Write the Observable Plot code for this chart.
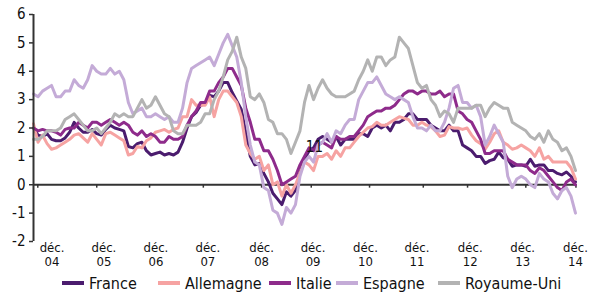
<!DOCTYPE html>
<html><head><meta charset="utf-8">
<script src="https://cdn.jsdelivr.net/npm/d3@7"></script>
<script src="https://cdn.jsdelivr.net/npm/@observablehq/plot@0.6"></script>
<style>
body{margin:0;background:#fff;}
#chart{position:relative;width:592px;height:295px;font-family:'Liberation Sans Narrow','DejaVu Sans Condensed','Arial Narrow',sans-serif;}
#legend{position:absolute;left:0;top:273px;width:592px;height:20px;}
.item{position:absolute;top:0;display:flex;align-items:center;font-size:16px;color:#111;height:20px;white-space:nowrap;}
.sw{width:22px;height:4px;margin-right:5px;}
</style></head><body><div id="chart"><div id="legend"></div></div>
<script>
// Monthly values, Dec 2004 (index 0) -> Dec 2014 (index 120), % y/y
const france = [2.0,
 1.75,1.7,1.8,1.6,1.55,1.55,1.65,1.85,2.2,2.0,1.85,1.85,
 1.95,1.8,1.75,1.95,2.1,2.0,1.95,1.9,1.35,1.3,1.45,1.5,
 1.2,1.05,1.1,1.15,1.05,1.1,1.05,1.15,1.5,2.0,2.4,2.55,
 2.8,2.85,3.15,3.1,3.3,3.6,3.6,3.25,2.95,2.65,1.85,1.0,
 0.7,0.75,0.4,0.1,-0.3,-0.5,-0.7,-0.25,-0.4,-0.2,0.4,0.9,
 1.2,1.3,1.6,1.7,1.6,1.5,1.7,1.4,1.6,1.6,1.6,1.8,
 1.8,1.7,2.0,2.1,2.0,2.1,1.9,2.2,2.2,2.3,2.5,2.5,
 2.3,2.3,2.3,2.1,2.0,1.9,1.9,2.1,1.9,1.9,1.4,1.3,
 1.2,1.0,1.0,0.75,0.85,0.9,1.15,0.95,0.9,0.65,0.7,0.7,
 0.65,0.9,0.65,0.7,0.7,0.5,0.5,0.4,0.35,0.45,0.3,0.1];
const allemagne = [2.15,
 1.5,1.75,1.45,1.25,1.3,1.4,1.5,1.6,1.75,1.8,1.65,1.5,
 1.8,1.6,1.4,1.8,1.85,1.75,1.65,1.55,1.05,1.1,1.35,1.3,
 1.55,1.65,1.85,1.9,1.95,1.85,1.95,2.0,2.4,2.4,3.0,2.8,
 2.8,2.8,3.1,2.4,3.0,3.3,3.3,3.1,2.9,2.4,1.4,1.1,
 0.9,1.0,0.5,0.7,0.0,0.1,-0.4,0.0,-0.3,0.0,0.4,0.8,
 0.7,0.5,1.0,1.0,1.1,0.9,1.2,1.0,1.3,1.3,1.5,1.7,
 1.85,2.0,2.05,2.2,2.1,2.1,2.2,2.3,2.4,2.35,2.3,2.1,
 2.1,2.2,2.1,2.05,1.9,1.7,1.75,2.05,2.0,2.0,1.95,2.0,
 1.75,1.55,1.45,1.25,1.5,1.8,1.9,1.5,1.4,1.25,1.3,1.4,
 1.3,1.2,1.0,1.3,0.9,1.0,0.8,0.8,0.8,0.8,0.6,0.2];
const italie = [2.0,
 1.9,1.95,1.9,1.9,1.85,1.75,1.95,2.0,2.0,2.2,2.1,2.0,
 2.2,2.2,2.1,2.2,2.3,2.2,2.1,2.2,2.1,1.85,1.75,1.9,
 1.7,1.8,1.7,1.5,1.5,1.7,1.6,1.6,1.7,2.1,2.4,2.6,
 2.9,2.9,3.3,3.3,3.6,3.8,4.1,4.1,3.8,3.5,2.7,2.2,
 1.6,1.6,1.2,1.2,0.9,0.5,0.0,0.1,0.2,0.3,0.7,1.0,
 1.3,1.2,1.4,1.5,1.4,1.3,1.7,1.6,1.6,1.7,1.7,1.9,
 2.1,2.4,2.5,2.6,2.6,2.7,2.7,2.8,3.0,3.2,3.3,3.3,
 3.2,3.3,3.3,3.2,3.2,3.3,3.1,3.2,3.2,2.6,2.5,2.3,
 2.2,1.9,1.6,1.1,1.1,1.2,1.2,1.2,0.9,0.8,0.7,0.7,
 0.7,0.5,0.4,0.6,0.5,0.3,0.1,-0.1,-0.2,0.1,0.2,0.0];
const espagne = [3.2,
 3.1,3.3,3.4,3.5,3.1,3.1,3.3,3.3,3.7,3.5,3.4,3.7,
 4.2,4.0,3.9,3.9,4.1,3.9,4.0,3.7,2.9,2.5,2.6,2.7,
 2.4,2.4,2.5,2.4,2.3,2.4,2.2,2.2,2.7,3.6,4.1,4.2,
 4.3,4.4,4.5,4.2,4.6,5.0,5.3,4.9,4.5,3.6,2.4,1.4,
 0.8,0.7,-0.1,-0.2,-0.9,-1.0,-1.4,-0.8,-1.0,-0.7,0.3,0.8,
 1.0,0.8,1.4,1.5,1.8,1.5,1.9,1.8,2.1,2.3,2.3,3.0,
 3.3,3.6,3.6,3.8,3.5,3.2,3.1,3.0,3.1,3.0,2.9,2.4,
 2.0,2.0,1.9,2.1,1.9,1.9,2.2,2.7,3.4,3.5,2.9,2.9,
 2.7,2.8,2.4,1.4,1.7,2.1,1.8,1.5,0.3,-0.1,0.2,0.3,
 0.2,0.0,-0.1,0.4,0.2,0.1,-0.3,-0.5,-0.2,-0.1,-0.4,-1.0];
const royaumeUni = [1.6,
 1.6,1.7,1.9,1.9,1.9,2.0,2.3,2.4,2.5,2.3,2.1,1.9,
 1.9,2.0,1.8,2.0,2.2,2.5,2.4,2.5,2.4,2.4,2.7,3.0,
 2.7,2.8,3.1,2.8,2.5,2.4,1.9,1.8,1.8,2.1,2.1,2.1,
 2.2,2.5,2.5,3.0,3.3,3.8,4.4,4.7,5.2,4.5,4.1,3.1,
 3.0,3.2,2.9,2.3,2.2,1.8,1.8,1.6,1.1,1.5,1.9,2.9,
 3.5,3.0,3.4,3.7,3.4,3.2,3.1,3.1,3.1,3.2,3.3,3.7,
 4.0,4.4,4.0,4.5,4.5,4.2,4.4,4.5,5.2,5.0,4.8,4.2,
 3.6,3.4,3.5,3.0,2.8,2.4,2.6,2.5,2.2,2.7,2.7,2.7,
 2.7,2.8,2.8,2.4,2.7,2.9,2.8,2.7,2.7,2.2,2.1,2.0,
 1.9,1.7,1.6,1.8,1.5,1.9,1.6,1.5,1.2,1.3,1.0,0.5];

const seriesNames = ["France","Allemagne","Italie","Espagne","Royaume-Uni"];
const seriesColors = ["#4b1c6e","#f6a3a2","#8e2b8b","#c4abd7","#b3b3b3"];
const seriesValues = [france, allemagne, italie, espagne, royaumeUni];

// x-axis labels (position in month index) and tick marks
const tickMonth = ["déc.","déc.","déc.","déc.","déc.","déc.","déc.","déc.","déc.","déc.","déc."];
const tickYear = ["04","05","06","07","08","09","10","11","12","13","14"];
const tickLabelPos = [4.1,15.6,27.1,38.6,50.5,61.9,73.5,84.9,96.7,108.3,120.0];
const tickMarkPos = [0.95,14.0,25.7,37.6,50.5,61.5,74.4,86.3,96.1,109.0,120.1];
const yTicks = [-2,-1,0,1,2,3,4,5,6];
const noteText = ["11"];
const noteX = [62.2];
const noteY = [1.32];

const rows = [];
seriesValues.forEach((vals, s) => vals.forEach((v, i) => rows.push({serie: seriesNames[s], m: i, v})));
const font = "'Liberation Sans Narrow','DejaVu Sans Condensed','Arial Narrow',sans-serif";

const chart = Plot.plot({
  width: 592, height: 270,
  marginLeft: 33, marginRight: 17, marginTop: 14, marginBottom: 29,
  x: {domain: [0, 120], axis: null},
  y: {domain: [-2, 6], axis: null},
  color: {domain: seriesNames, range: seriesColors},
  style: {fontFamily: font, fontSize: "15px", color: "#111", background: "white", overflow: "visible"},
  marks: [
    Plot.ruleY([0], {stroke: "#333", strokeWidth: 2}),
    Plot.ruleX(tickMarkPos, {y1: 0, y2: -0.12, stroke: "#333", strokeWidth: 1.5}),
    ...seriesNames.map(name => Plot.line(rows.filter(r => r.serie === name), {
      x: "m", y: "v", stroke: "serie", strokeWidth: 3, strokeLinejoin: "round", strokeLinecap: "round"
    })),
    Plot.ruleX([0], {stroke: "#333", strokeWidth: 2}),
    Plot.axisY({ticks: yTicks, tickSize: 4, tickPadding: 4, tickFormat: d => String(d), label: null, fontSize: 15, stroke: "#333", strokeWidth: 1.5}),
    Plot.text(tickLabelPos, {x: d => d, y: -2, text: (d, i) => tickMonth[i], lineAnchor: "top", dy: 1, fontSize: 13, fill: "#111"}),
    Plot.text(tickLabelPos, {x: d => d, y: -2, text: (d, i) => tickYear[i], lineAnchor: "top", dy: 15.5, fontSize: 13, fill: "#111"}),
    Plot.text(noteText, {x: (d, i) => noteX[i], y: (d, i) => noteY[i], text: d => d, fontSize: 15, fill: "#111"})
  ]
});
document.getElementById("chart").prepend(chart);

const legendLeft = [62, 158, 269, 336, 438];
const legend = document.getElementById("legend");
seriesNames.forEach((n, i) => {
  const it = document.createElement("div");
  it.className = "item";
  it.style.left = legendLeft[i] + "px";
  it.innerHTML = `<span class="sw" style="background:${seriesColors[i]}"></span><span>${n}</span>`;
  legend.appendChild(it);
});
</script></body></html>
